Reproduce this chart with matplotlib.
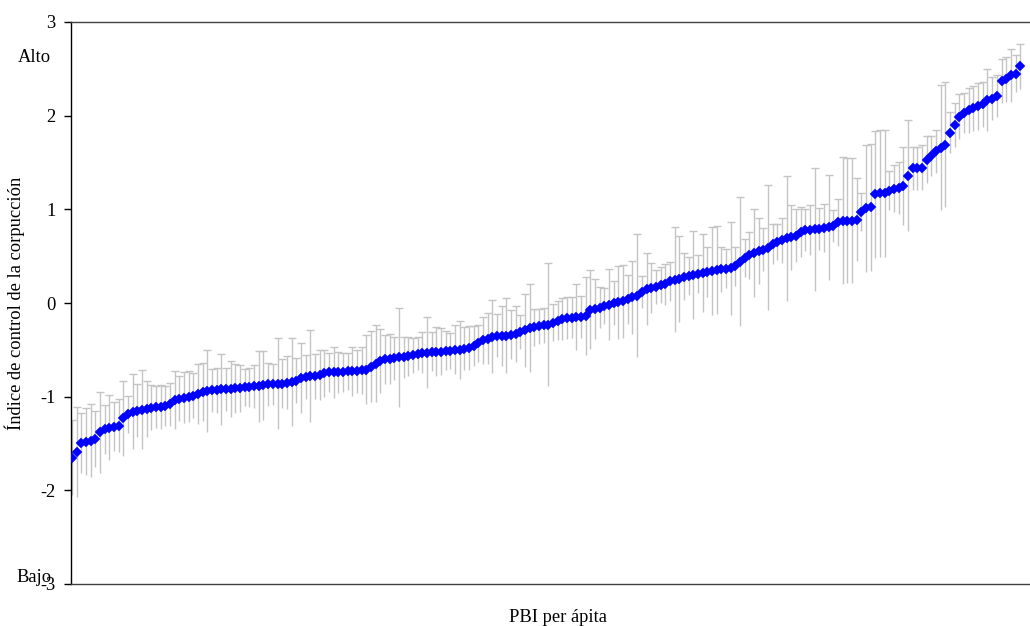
import numpy as np
import matplotlib
matplotlib.use("Agg")
import matplotlib.pyplot as plt

plt.rcParams["font.family"] = ["Liberation Serif", "DejaVu Serif"]
plt.rcParams["axes.unicode_minus"] = False

# ======================================================
# DATA (one value per country)
# ======================================================
mean_idx = [
    -1.65, -1.59, -1.49, -1.48, -1.47, -1.45, -1.38, -1.35, -1.33, -1.32,
    -1.31, -1.23, -1.19, -1.16, -1.15, -1.14, -1.13, -1.12, -1.11, -1.11,
    -1.10, -1.08, -1.04, -1.02, -1.01, -1.00, -0.99, -0.97, -0.95, -0.94,
    -0.93, -0.93, -0.92, -0.92, -0.92, -0.91, -0.91, -0.90, -0.90, -0.89,
    -0.89, -0.88, -0.87, -0.87, -0.86, -0.86, -0.85, -0.84, -0.83, -0.80,
    -0.79, -0.78, -0.78, -0.77, -0.75, -0.74, -0.74, -0.74, -0.74, -0.73,
    -0.73, -0.73, -0.72, -0.71, -0.68, -0.65, -0.62, -0.60, -0.60, -0.59,
    -0.58, -0.58, -0.57, -0.56, -0.54, -0.53, -0.53, -0.52, -0.52, -0.52,
    -0.51, -0.51, -0.50, -0.50, -0.49, -0.48, -0.46, -0.43, -0.40, -0.38,
    -0.36, -0.35, -0.35, -0.35, -0.34, -0.33, -0.31, -0.29, -0.27, -0.26,
    -0.25, -0.24, -0.23, -0.21, -0.19, -0.17, -0.16, -0.155, -0.15, -0.15,
    -0.14, -0.07, -0.06, -0.05, -0.03, -0.02, 0.00, 0.01, 0.02, 0.04,
    0.06, 0.08, 0.12, 0.15, 0.16, 0.17, 0.19, 0.20, 0.23, 0.25,
    0.26, 0.28, 0.29, 0.30, 0.31, 0.32, 0.33, 0.345, 0.35, 0.36,
    0.365, 0.37, 0.39, 0.44, 0.48, 0.51, 0.53, 0.555, 0.57, 0.59,
    0.63, 0.65, 0.67, 0.69, 0.70, 0.72, 0.76, 0.78, 0.78, 0.785,
    0.79, 0.80, 0.81, 0.82, 0.86, 0.88, 0.88, 0.88, 0.89, 0.97,
    1.01, 1.02, 1.16, 1.17, 1.17, 1.20, 1.22, 1.23, 1.25, 1.36,
    1.44, 1.44, 1.445, 1.53, 1.57, 1.62, 1.66, 1.69, 1.82, 1.90,
    1.99, 2.03, 2.06, 2.08, 2.10, 2.12, 2.17, 2.18, 2.21, 2.37,
    2.39, 2.43, 2.45, 2.53,
]

half_err = [
    0.40, 0.48, 0.32, 0.36, 0.39, 0.30, 0.43, 0.26, 0.35, 0.26,
    0.28, 0.40, 0.20, 0.40, 0.28, 0.42, 0.30, 0.24, 0.22, 0.23,
    0.21, 0.23, 0.31, 0.24, 0.27, 0.27, 0.24, 0.32, 0.31, 0.44,
    0.23, 0.24, 0.38, 0.23, 0.30, 0.26, 0.25, 0.20, 0.21, 0.23,
    0.38, 0.37, 0.23, 0.22, 0.49, 0.26, 0.28, 0.47, 0.24, 0.37,
    0.24, 0.49, 0.24, 0.27, 0.25, 0.21, 0.27, 0.22, 0.21, 0.20,
    0.26, 0.23, 0.25, 0.37, 0.38, 0.41, 0.34, 0.26, 0.27, 0.23,
    0.53, 0.22, 0.21, 0.19, 0.18, 0.22, 0.38, 0.21, 0.26, 0.25,
    0.21, 0.19, 0.26, 0.31, 0.23, 0.23, 0.21, 0.20, 0.25, 0.27,
    0.39, 0.23, 0.32, 0.40, 0.26, 0.30, 0.18, 0.39, 0.47, 0.20,
    0.19, 0.19, 0.66, 0.20, 0.21, 0.22, 0.22, 0.22, 0.35, 0.22,
    0.42, 0.42, 0.32, 0.22, 0.19, 0.38, 0.23, 0.39, 0.39, 0.26,
    0.39, 0.66, 0.17, 0.38, 0.27, 0.18, 0.19, 0.22, 0.21, 0.56,
    0.46, 0.25, 0.20, 0.47, 0.20, 0.42, 0.27, 0.47, 0.47, 0.24,
    0.21, 0.50, 0.21, 0.69, 0.20, 0.25, 0.47, 0.35, 0.23, 0.67,
    0.21, 0.19, 0.24, 0.67, 0.35, 0.28, 0.27, 0.22, 0.27, 0.66,
    0.22, 0.26, 0.56, 0.17, 0.25, 0.68, 0.67, 0.67, 0.44, 0.20,
    0.68, 0.68, 0.68, 0.68, 0.68, 0.21, 0.25, 0.28, 0.42, 0.59,
    0.23, 0.23, 0.24, 0.25, 0.21, 0.23, 0.67, 0.67, 0.22, 0.23,
    0.24, 0.21, 0.24, 0.24, 0.25, 0.24, 0.33, 0.23, 0.22, 0.24,
    0.24, 0.28, 0.20, 0.24,
]

y_ticks = [-3, -2, -1, 0, 1, 2, 3]

x_label = "PBI per ápita"
y_label = "Índice de control de la corpucción"

assert len(mean_idx) == len(half_err)

# ======================================================
# PLOT
# ======================================================
mean_arr = np.array(mean_idx)
err_arr = np.array(half_err)
country = np.arange(len(mean_arr))

W, H = 1030, 626
fig = plt.figure(figsize=(W / 100, H / 100), dpi=100)
ax = fig.add_axes([71 / W, 1 - 584 / H, (W - 71) / W, (584 - 22) / H])

# error bars (grey, cap only on the upper end)
ax.errorbar(country, mean_arr, yerr=err_arr, fmt="none",
            ecolor="#C4C4C4", elinewidth=1.0, capsize=0, zorder=1)
ax.plot(country, mean_arr + err_arr, ls="none", marker="_",
        ms=5.5, mew=1.0, color="#C4C4C4", zorder=1)

# country means
ax.plot(country, mean_arr, ls="none", marker="D", ms=4.8,
        color="#0000FF", mec="#0000FF", mew=0.3, zorder=3)

ax.set_xlim(-0.21, 205.1)
ax.set_ylim(-3, 3)
ax.set_yticks(y_ticks)
ax.set_yticklabels([str(t) for t in y_ticks])
ax.set_xticks([])

ax.spines["right"].set_visible(False)
ax.spines["left"].set_color("black")
ax.spines["top"].set_color("#404040")
ax.spines["bottom"].set_color("#404040")
for s in ax.spines.values():
    s.set_linewidth(1.0)

fs = 13.3
ax.tick_params(axis="y", direction="out", length=5, width=1.0,
               pad=6, labelsize=fs, colors="black")

fig.text(558 / W, 1 - 617 / H, x_label, ha="center", va="center",
         fontsize=fs)
fig.text(15 / W, 1 - 303 / H, y_label, ha="center", va="center",
         rotation=90, fontsize=fs)
fig.text(18 / W, 1 - 58 / H, "Alto", ha="left", va="center",
         fontsize=fs)
fig.text(16 / W, 1 - 577 / H, "Bajo", ha="left", va="center",
         fontsize=fs)

fig.savefig("out.png", dpi=100)
